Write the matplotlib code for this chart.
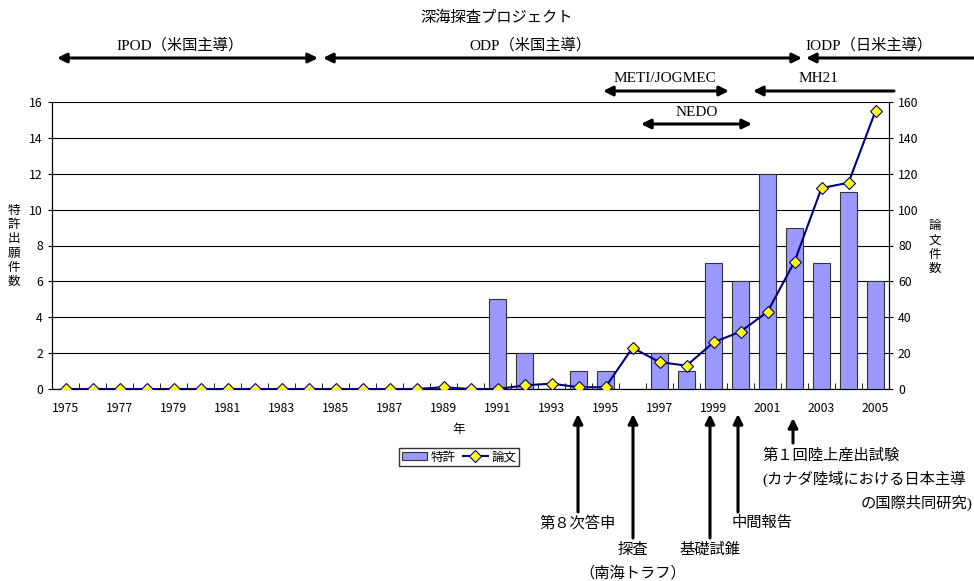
import numpy as np
import matplotlib.pyplot as plt
from matplotlib.lines import Line2D
from matplotlib.patches import Patch

plt.rcParams['font.family'] = ['Noto Sans CJK JP', 'DejaVu Sans']

years = list(range(1975, 2006))
patents = [0, 0, 0, 0, 0, 0, 0, 0, 0, 0, 0, 0, 0, 0, 0, 0,
           5, 2, 0, 1, 1, 0, 2, 1, 7, 6, 12, 9, 7, 11, 6]
papers = [0, 0, 0, 0, 0, 0, 0, 0, 0, 0, 0, 0, 0, 0, 1, 0,
          0, 2, 3, 1, 1, 23, 15, 13, 26, 32, 43, 71, 112, 115, 155]
tick_years = years[::2]

W, H = 974, 581
SERIF = ['Liberation Serif', 'Noto Sans CJK JP']
TICK_FS = 8.8

fig = plt.figure(figsize=(W / 100, H / 100), dpi=100)
ax = fig.add_axes([52 / W, 1 - 389 / H, (889 - 52) / W, (389 - 102) / H])

ax.bar(years, patents, width=0.63, color='#9999FF', edgecolor='#333333', linewidth=0.8, zorder=3)
ax.set_xlim(1974.5, 2005.5)
ax.set_ylim(0, 16)
ax.set_yticks(range(0, 17, 2))
ax.yaxis.grid(True, color='black', linewidth=0.8, zorder=0)
ax.set_axisbelow(True)
ax.set_xticks(tick_years)
ax.set_xticklabels([str(y) for y in tick_years], fontsize=TICK_FS)
ax.set_xticks(np.arange(1974.5, 2006, 1), minor=True)
ax.tick_params(axis='x', which='major', length=0, pad=9)
ax.tick_params(axis='x', which='minor', direction='in', length=4)
ax.tick_params(axis='y', labelsize=TICK_FS, length=3)
ax.spines['top'].set_visible(False)

ax2 = ax.twinx()
ax2.plot(years, papers, color='#000080', linewidth=1.5, marker='D', markersize=6.5,
         markerfacecolor='#FFFF00', markeredgecolor='#000080', markeredgewidth=0.8, zorder=5)
ax2.set_ylim(0, 160)
ax2.set_yticks(range(0, 161, 20))
ax2.tick_params(axis='y', labelsize=TICK_FS, length=3)
ax2.spines['top'].set_visible(False)

fig.text(14 / W, 1 - 246 / H, '特\n許\n出\n願\n件\n数', fontsize=9, ha='center', va='center', linespacing=1.12)
fig.text(935 / W, 1 - 247 / H, '論\n文\n件\n数', fontsize=9, ha='center', va='center', linespacing=1.12)
fig.text(459 / W, 1 - 429 / H, '年', fontsize=9, ha='center', va='center')

handles = [Patch(facecolor='#9999FF', edgecolor='#333333', linewidth=0.8),
           Line2D([], [], color='#000080', linewidth=1.5, marker='D', markersize=6,
                  markerfacecolor='#FFFF00', markeredgecolor='#000080', markeredgewidth=0.8)]
leg = fig.legend(handles, ['特許', '論文'], ncol=2, loc='center',
                 bbox_to_anchor=(459 / W, 1 - 457 / H), fontsize=9, frameon=True,
                 fancybox=False, edgecolor='black', borderpad=0.2, handlelength=2.0,
                 handleheight=0.6, handletextpad=0.3, columnspacing=0.6)
leg.get_frame().set_linewidth(1.0)


def px(x, y):
    return (x, H - y)


def arrow(x1, y1, x2, y2, style):
    ax.annotate('', xy=px(x2, y2), xytext=px(x1, y1), xycoords='figure pixels',
                textcoords='figure pixels', annotation_clip=False,
                arrowprops=dict(arrowstyle=style, color='black', lw=2.2,
                                mutation_scale=14, shrinkA=0, shrinkB=0))


def label(x, y, s, ha='center'):
    fig.text(x / W, 1 - y / H, s, fontsize=11, ha=ha, va='center', family=SERIF)


# top project timeline
label(497, 18, '深海探査プロジェクト')
label(180, 45, 'IPOD（米国主導）')
arrow(57, 58, 318, 58, '<|-|>')
label(530, 45, 'ODP（米国主導）')
arrow(323, 58, 802, 58, '<|-|>')
label(869, 45, 'IODP（日米主導）')
arrow(974, 58, 806, 58, '-|>')
label(665, 78, 'METI/JOGMEC')
arrow(603, 91, 729, 91, '<|-|>')
label(818, 78, 'MH21')
arrow(894, 91, 753, 91, '-|>')
label(697, 112, 'NEDO')
arrow(641, 124, 752, 124, '<|-|>')

# bottom events
arrow(578, 512, 578, 414, '-|>')
label(578, 523, '第８次答申')
arrow(633, 538, 633, 414, '-|>')
label(633, 550, '探査')
label(633, 573, '（南海トラフ）')
arrow(710, 538, 710, 414, '-|>')
label(710, 550, '基礎試錐')
arrow(738, 512, 738, 414, '-|>')
label(762, 523, '中間報告')
arrow(793, 443, 793, 418, '-|>')
label(762, 455, '第１回陸上産出試験', ha='left')
label(762, 479, '(カナダ陸域における日本主導', ha='left')
label(972, 503, 'の国際共同研究)', ha='right')

fig.savefig('out.png', dpi=100)
